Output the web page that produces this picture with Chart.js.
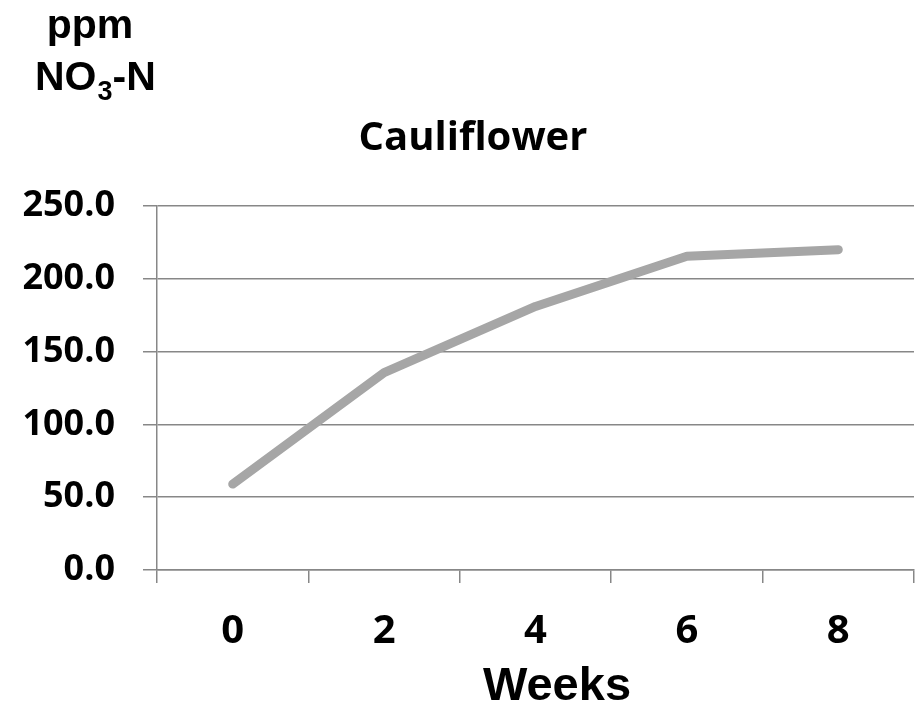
<!DOCTYPE html>
<html>
<head>
<meta charset="utf-8">
<title>Cauliflower NO3-N</title>
<script src="https://cdn.jsdelivr.net/npm/chart.js@4/dist/chart.umd.min.js"></script>
<style>
  html, body { margin: 0; padding: 0; background: #ffffff; }
  #wrap { width: 916px; height: 702px; }
</style>
</head>
<body>
<div id="wrap"><canvas id="chart" width="916" height="702"></canvas></div>
<script>
// Nitrate-N in cauliflower tissue over the growing period
const weeks = ['0', '2', '4', '6', '8'];
const nitrateN = [59, 135.5, 181, 215.5, 220];
const yMin = 0;
const yMax = 250;
const yStep = 50;

const chartTitle = 'Cauliflower';
const xTitle = 'Weeks';

const axisGray = '#878787';
const lineGray = '#a6a6a6';

// Headings drawn outside the plot area: unit label, title, x-axis title
const headings = {
  id: 'headings',
  afterDraw(chart) {
    const ctx = chart.ctx;
    ctx.save();
    ctx.fillStyle = '#000000';
    ctx.textBaseline = 'alphabetic';

    // "ppm" above "NO3-N" with a subscript 3
    ctx.font = 'bold 41px "Liberation Sans", Arial, sans-serif';
    ctx.textAlign = 'center';
    ctx.fillText('ppm', 90, 38);

    ctx.textAlign = 'left';
    let x = 35;
    ctx.fillText('NO', x, 90);
    x += ctx.measureText('NO').width;
    ctx.font = 'bold 27px "Liberation Sans", Arial, sans-serif';
    ctx.fillText('3', x + 1, 100);
    x += ctx.measureText('3').width + 1;
    ctx.font = 'bold 41px "Liberation Sans", Arial, sans-serif';
    ctx.fillText('-N', x, 90);

    // chart title
    ctx.textAlign = 'center';
    ctx.font = 'bold 40px "Open Sans", sans-serif';
    ctx.fillText(chartTitle, 473, 150);

    // x-axis title
    ctx.font = 'bold 47px "Liberation Sans", Arial, sans-serif';
    ctx.fillText(xTitle, 557, 700);
    ctx.restore();
  }
};

new Chart(document.getElementById('chart'), {
  type: 'line',
  data: {
    labels: weeks,
    datasets: [{
      data: nitrateN,
      borderColor: lineGray,
      backgroundColor: lineGray,
      borderWidth: 9,
      borderCapStyle: 'round',
      borderJoinStyle: 'round',
      pointRadius: 0,
      pointHoverRadius: 0,
      tension: 0,
      fill: false
    }]
  },
  options: {
    responsive: false,
    animation: false,
    events: [],
    layout: { padding: { top: 206, right: 2, left: 0, bottom: 0 } },
    plugins: {
      legend: { display: false },
      title: { display: false },
      tooltip: { enabled: false }
    },
    scales: {
      x: {
        type: 'category',
        offset: true,
        afterFit(scale) { scale.height = 132; },
        grid: {
          offset: true,
          drawOnChartArea: false,
          drawTicks: true,
          tickLength: 13,
          color: axisGray,
          lineWidth: 1.5
        },
        border: { display: true, color: axisGray, width: 1.5 },
        ticks: {
          color: '#000000',
          padding: 25,
          maxRotation: 0,
          font: { family: '"Open Sans", sans-serif', weight: 'bold', size: 40 }
        }
      },
      y: {
        min: yMin,
        max: yMax,
        afterFit(scale) { scale.width = 157; },
        grid: {
          drawOnChartArea: true,
          drawTicks: true,
          tickLength: 14,
          color: axisGray,
          lineWidth: 1.5
        },
        border: { display: true, color: axisGray, width: 1.5 },
        ticks: {
          stepSize: yStep,
          color: '#000000',
          padding: 28,
          font: { family: '"Open Sans", sans-serif', weight: 'bold', size: 36 },
          callback: (v) => Number(v).toFixed(1)
        }
      }
    }
  },
  plugins: [headings]
});
</script>
</body>
</html>
